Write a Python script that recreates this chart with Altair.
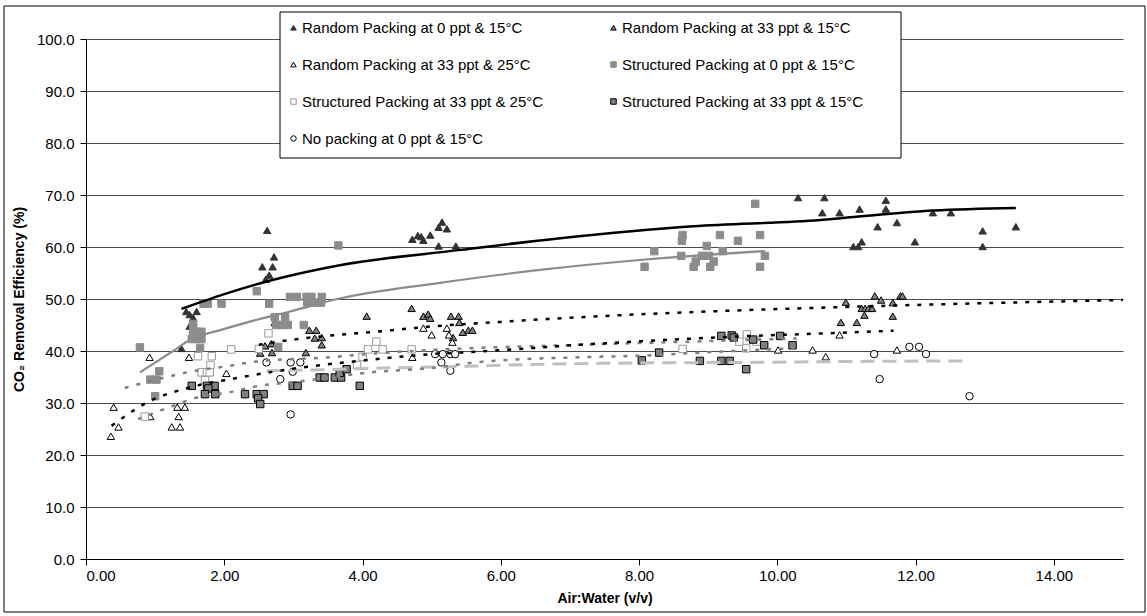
import altair as alt
import pandas as pd

FONT = "Liberation Sans"

# legend is laid out column by column, so this order reproduces the
# row-wise arrangement of the original legend
series_names = [
    "Random Packing at 0 ppt & 15°C",
    "Random Packing at 33 ppt & 25°C",
    "Structured Packing at 33 ppt & 25°C",
    "No packing at 0 ppt & 15°C",
    "Random Packing at 33 ppt & 15°C",
    "Structured Packing at 0 ppt & 15°C",
    "Structured Packing at 33 ppt & 15°C",
]

rp0_15_x = [1.38, 1.45, 1.5, 1.55, 1.6, 1.55, 1.5, 2.62, 2.72, 2.55, 2.7, 2.65, 2.6,
            4.72, 4.8, 4.88, 4.98, 5.1, 5.15, 5.22, 5.1, 5.35, 4.85,
            10.3, 10.68, 10.65, 10.9, 11.1, 11.17, 11.22, 11.19, 11.45, 11.57, 11.57,
            11.73, 11.99, 12.25, 12.51, 12.97, 12.97, 13.45]
rp0_15_y = [40.5, 47.6, 47.0, 46.4, 47.6, 45.6, 44.8, 63.2, 58.1, 56.2, 56.2, 54.6, 53.8,
            61.5, 62.2, 61.3, 62.3, 63.8, 64.8, 63.5, 60.2, 60.2, 62.0,
            69.5, 69.5, 66.6, 66.6, 60.1, 60.1, 61.0, 67.3, 63.9, 69.0, 67.3,
            64.7, 61.0, 66.6, 66.6, 63.1, 60.1, 63.9]

rp33_15_x = [2.73, 2.59, 2.68, 2.52, 2.69, 3.23, 3.33, 3.31, 3.41, 3.41, 3.18, 4.06, 4.71,
             4.88, 4.95, 4.98, 5.28, 5.39, 5.4, 5.31, 5.45, 5.53, 5.59,
             10.99, 11.41, 11.5, 11.78, 11.81, 11.67, 11.22, 11.27, 11.32, 11.37, 11.26,
             11.67, 10.92, 11.15]
rp33_15_y = [45.5, 41.0, 41.4, 39.6, 39.7, 44.0, 44.0, 42.5, 42.6, 41.2, 39.7, 46.7, 48.2,
             46.7, 47.1, 46.3, 46.7, 46.7, 45.5, 42.6, 43.6, 44.0, 44.0,
             49.4, 50.6, 49.8, 50.6, 50.6, 49.3, 48.2, 48.2, 48.2, 48.2, 46.9,
             46.7, 45.5, 45.5]

rp33_25_x = [0.36, 0.47, 0.4, 0.92, 0.93, 1.24, 1.36, 1.34, 1.32, 1.43, 1.49, 2.03, 4.72,
             4.88, 5.0, 5.22, 5.25, 5.3, 10.01, 10.51, 10.7, 10.9, 11.73]
rp33_25_y = [23.6, 25.4, 29.2, 38.8, 27.4, 25.4, 25.4, 27.4, 29.2, 29.2, 38.8, 35.7, 38.8,
             44.4, 43.1, 44.4, 43.1, 41.7, 40.2, 40.2, 38.9, 43.1, 40.2]

sp0_15_x = [0.78, 1.06, 0.93, 1.02, 1.0, 1.55, 1.55, 1.6, 1.67, 1.53, 1.6, 1.67, 1.65,
            1.7, 1.76, 1.96, 2.47, 2.65, 2.73, 2.88, 2.75, 2.85, 2.92, 3.15, 2.78,
            2.95, 3.05, 3.19, 3.26, 3.41, 3.2, 3.3, 3.4, 3.65,
            8.63, 8.62, 9.17, 9.43, 9.75, 8.22, 8.98, 9.21, 8.61, 8.91, 9.01, 9.82,
            8.82, 9.08, 8.08, 8.79, 9.03, 9.75, 9.68]
sp0_15_y = [40.7, 36.1, 34.5, 34.5, 31.3, 45.2, 43.9, 43.7, 43.7, 42.3, 42.3, 42.3, 40.6,
            49.1, 49.1, 49.1, 51.5, 49.1, 46.5, 46.5, 45.0, 45.0, 45.0, 45.0, 40.8,
            50.4, 50.4, 50.4, 50.4, 50.4, 49.3, 49.3, 49.3, 60.3,
            62.3, 61.2, 62.3, 61.2, 62.3, 59.2, 60.2, 59.2, 58.3, 58.3, 58.3, 58.3,
            57.2, 57.2, 56.2, 56.2, 56.2, 56.2, 68.3]

sp33_25_x = [0.85, 1.62, 1.82, 1.8, 1.67, 1.75, 1.79, 1.72, 2.1, 2.5, 2.64, 3.92, 4.0,
             4.08, 4.29, 4.2, 4.71, 8.63, 9.45, 9.56, 9.7, 9.55]
sp33_25_y = [27.4, 39.0, 39.0, 37.3, 35.9, 35.9, 35.9, 34.4, 40.3, 40.4, 43.4, 37.3, 38.9,
             40.3, 40.3, 41.8, 40.3, 40.4, 41.8, 43.2, 41.8, 40.5]

sp33_15_x = [1.53, 1.75, 1.86, 1.77, 1.72, 1.87, 2.3, 2.47, 2.57, 2.49, 2.52, 2.99, 3.06,
             3.38, 3.45, 3.6, 3.69, 3.67, 3.77, 3.96, 8.04, 8.29, 8.88, 9.19, 9.31,
             9.19, 9.34, 9.37, 9.65, 9.81, 10.04, 10.22, 9.55]
sp33_15_y = [33.3, 33.3, 33.3, 32.8, 31.7, 31.7, 31.7, 31.7, 31.7, 30.9, 29.8, 33.3, 33.3,
             34.9, 34.9, 34.9, 34.9, 35.8, 36.5, 33.3, 38.2, 39.7, 38.1, 38.1, 38.1,
             42.9, 43.0, 42.6, 42.2, 41.1, 42.9, 41.1, 36.5]

np0_15_x = [2.61, 2.81, 2.96, 3.1, 2.99, 2.96, 5.05, 5.16, 5.27, 5.34, 5.14, 5.27,
            11.4, 11.48, 11.91, 12.05, 12.15, 12.78]
np0_15_y = [37.8, 34.6, 37.8, 37.8, 36.0, 27.8, 39.4, 39.4, 39.4, 39.4, 37.8, 36.2,
            39.4, 34.6, 40.8, 40.8, 39.4, 31.3]

# trend lines
trend_rp0_15_x = [1.38, 1.99, 2.71, 3.67, 5.39, 6.86, 8.79, 10.62, 11.05, 12.26, 13.45]
trend_rp0_15_y = [48.1, 50.9, 53.7, 56.5, 59.4, 61.7, 64.0, 65.2, 65.7, 67.0, 67.5]

trend_sp0_15_x = [0.78, 1.26, 1.5, 1.99, 2.47, 2.95, 3.67, 5.12, 6.57, 8.01, 9.82]
trend_sp0_15_y = [35.9, 40.0, 42.1, 44.2, 46.0, 47.6, 50.1, 53.1, 55.6, 57.5, 59.2]

trend_rp33_15_x = [2.5, 3.0, 4.35, 4.98, 6.0, 7.15, 9.0, 11.05, 13.0, 15.0]
trend_rp33_15_y = [41.2, 42.2, 43.9, 44.7, 45.6, 46.5, 47.6, 48.5, 49.2, 49.8]

trend_rp33_25_x = [0.37, 0.9, 1.5, 2.18, 2.95, 4.1, 5.0, 5.7, 7.15, 9.27, 10.9, 11.68]
trend_rp33_25_y = [25.6, 30.2, 33.0, 34.8, 36.5, 38.3, 39.4, 39.9, 41.2, 42.7, 43.5, 43.9]

trend_sp33_25_x = [0.56, 1.17, 1.5, 2.05, 2.42, 3.53, 4.25, 4.98, 7.15, 9.0, 10.28]
trend_sp33_25_y = [32.9, 35.0, 36.0, 37.1, 37.9, 38.8, 39.6, 40.2, 41.2, 41.9, 42.4]

trend_sp33_15_x = [0.75, 1.17, 1.65, 2.05, 2.42, 3.05, 4.2, 4.98, 5.7, 7.15, 8.01, 9.2, 10.25]
trend_sp33_15_y = [26.9, 29.0, 31.2, 32.0, 33.1, 34.1, 36.0, 36.7, 37.9, 38.8, 39.1, 39.9, 40.5]

trend_np_x = [2.61, 3.7, 4.2, 5.0, 6.76, 8.0, 9.5, 11.2, 12.77]
trend_np_y = [36.2, 36.5, 36.7, 36.9, 37.5, 37.7, 37.8, 38.0, 38.1]

# styles, in the order of series_names
fill_colors = ["#333333", "#ffffff", "#ffffff", "#ffffff", "#808080", "#8c8c8c", "#808080"]
stroke_colors = ["#333333", "#000000", "#9a9a9a", "#000000", "#000000", "#8c8c8c", "#000000"]
shapes = ["triangle-up", "triangle-up", "square", "circle", "triangle-up", "square", "square"]

series_data = {
    "Random Packing at 0 ppt & 15°C": (rp0_15_x, rp0_15_y),
    "Random Packing at 33 ppt & 15°C": (rp33_15_x, rp33_15_y),
    "Random Packing at 33 ppt & 25°C": (rp33_25_x, rp33_25_y),
    "Structured Packing at 0 ppt & 15°C": (sp0_15_x, sp0_15_y),
    "Structured Packing at 33 ppt & 25°C": (sp33_25_x, sp33_25_y),
    "Structured Packing at 33 ppt & 15°C": (sp33_15_x, sp33_15_y),
    "No packing at 0 ppt & 15°C": (np0_15_x, np0_15_y),
}
rows = []
for name, (xs, ys) in series_data.items():
    for xv, yv in zip(xs, ys):
        rows.append({"series": name, "x": xv, "y": yv})
points = pd.DataFrame(rows)

trend_data = {
    "rp0_15": (trend_rp0_15_x, trend_rp0_15_y),
    "sp0_15": (trend_sp0_15_x, trend_sp0_15_y),
    "rp33_15": (trend_rp33_15_x, trend_rp33_15_y),
    "rp33_25": (trend_rp33_25_x, trend_rp33_25_y),
    "sp33_25": (trend_sp33_25_x, trend_sp33_25_y),
    "sp33_15": (trend_sp33_15_x, trend_sp33_15_y),
    "np": (trend_np_x, trend_np_y),
}
trows = []
for key, (xs, ys) in trend_data.items():
    for i, (xv, yv) in enumerate(zip(xs, ys)):
        trows.append({"trend": key, "x": xv, "y": yv, "i": i})
trends = pd.DataFrame(trows)

xscale = alt.Scale(domain=[0, 15], nice=False, zero=False)
yscale = alt.Scale(domain=[0, 100], nice=False)

x_axis = alt.Axis(values=[0, 2, 4, 6, 8, 10, 12, 14], format=".2f", grid=False,
                  title="Air:Water (v/v)", titleFontSize=14, titleFontWeight="bold",
                  titlePadding=8, labelFontSize=15, tickSize=6, labelPadding=3)
y_axis = alt.Axis(values=list(range(0, 101, 10)), format=".1f", grid=True,
                  gridColor="#4d4d4d", gridWidth=1,
                  title="CO₂ Removal Efficiency (%)", titleFontSize=14,
                  titleFontWeight="bold", titlePadding=10, labelFontSize=15,
                  tickSize=6, labelPadding=6)

legend = alt.Legend(title=None, orient="none", legendX=194, legendY=-25, columns=2,
                    padding=6, rowPadding=21, columnPadding=62, labelFontSize=15,
                    labelFont=FONT, labelColor="#000000", symbolSize=30, labelOffset=1,
                    symbolStrokeWidth=1, labelLimit=400)

pts = alt.Chart(points).mark_point(filled=True, size=55, strokeWidth=1, opacity=1).encode(
    x=alt.X("x:Q", scale=xscale, axis=x_axis),
    y=alt.Y("y:Q", scale=yscale, axis=y_axis),
    fill=alt.Fill("series:N", scale=alt.Scale(domain=series_names, range=fill_colors), legend=legend),
    stroke=alt.Stroke("series:N", scale=alt.Scale(domain=series_names, range=stroke_colors), legend=legend),
    shape=alt.Shape("series:N", scale=alt.Scale(domain=series_names, range=shapes), legend=legend),
)

def trend_layer(keys, color, width, dash=None):
    kw = dict(color=color, strokeWidth=width, interpolate="monotone")
    if dash:
        kw["strokeDash"] = dash
    return alt.Chart(trends).transform_filter(
        alt.FieldOneOfPredicate(field="trend", oneOf=keys)
    ).mark_line(**kw).encode(
        x=alt.X("x:Q", scale=xscale),
        y=alt.Y("y:Q", scale=yscale),
        detail="trend:N",
        order="i:Q",
    )

l_black = trend_layer(["rp0_15"], "#000000", 2.5)
l_gray = trend_layer(["sp0_15"], "#8c8c8c", 2.2)
l_bdot = trend_layer(["rp33_15", "rp33_25"], "#000000", 2.5, [4, 8])
l_gdot = trend_layer(["sp33_25", "sp33_15"], "#808080", 2.5, [4, 8])
l_ldash = trend_layer(["np"], "#c0c0c0", 3, [14, 8])

one = pd.DataFrame({"a": [0]})
border = alt.Chart(one).mark_rect(
    fill=None, stroke="#000000", strokeWidth=1, clip=False
).encode(x=alt.value(-82), x2=alt.value(1059), y=alt.value(-33), y2=alt.value(573))

legend_box = alt.Chart(one).mark_rect(
    fill="#ffffff", stroke="#000000", strokeWidth=1, clip=False
).encode(x=alt.value(194), x2=alt.value(815), y=alt.value(-27), y2=alt.value(119))

chart = alt.layer(border, legend_box, pts, l_ldash, l_gdot, l_bdot, l_gray, l_black).properties(
    width=1037, height=520,
    padding={"left": 86, "top": 39, "right": 24, "bottom": 57},
    autosize=alt.AutoSizeParams(type="none"),
    background="#ffffff",
).configure_view(stroke=None).configure_axis(
    labelFont=FONT, titleFont=FONT, labelColor="#000000", titleColor="#000000",
    domainColor="#000000", tickColor="#000000",
)

chart.save("out.html", embed_options={"renderer": "svg", "actions": False})
